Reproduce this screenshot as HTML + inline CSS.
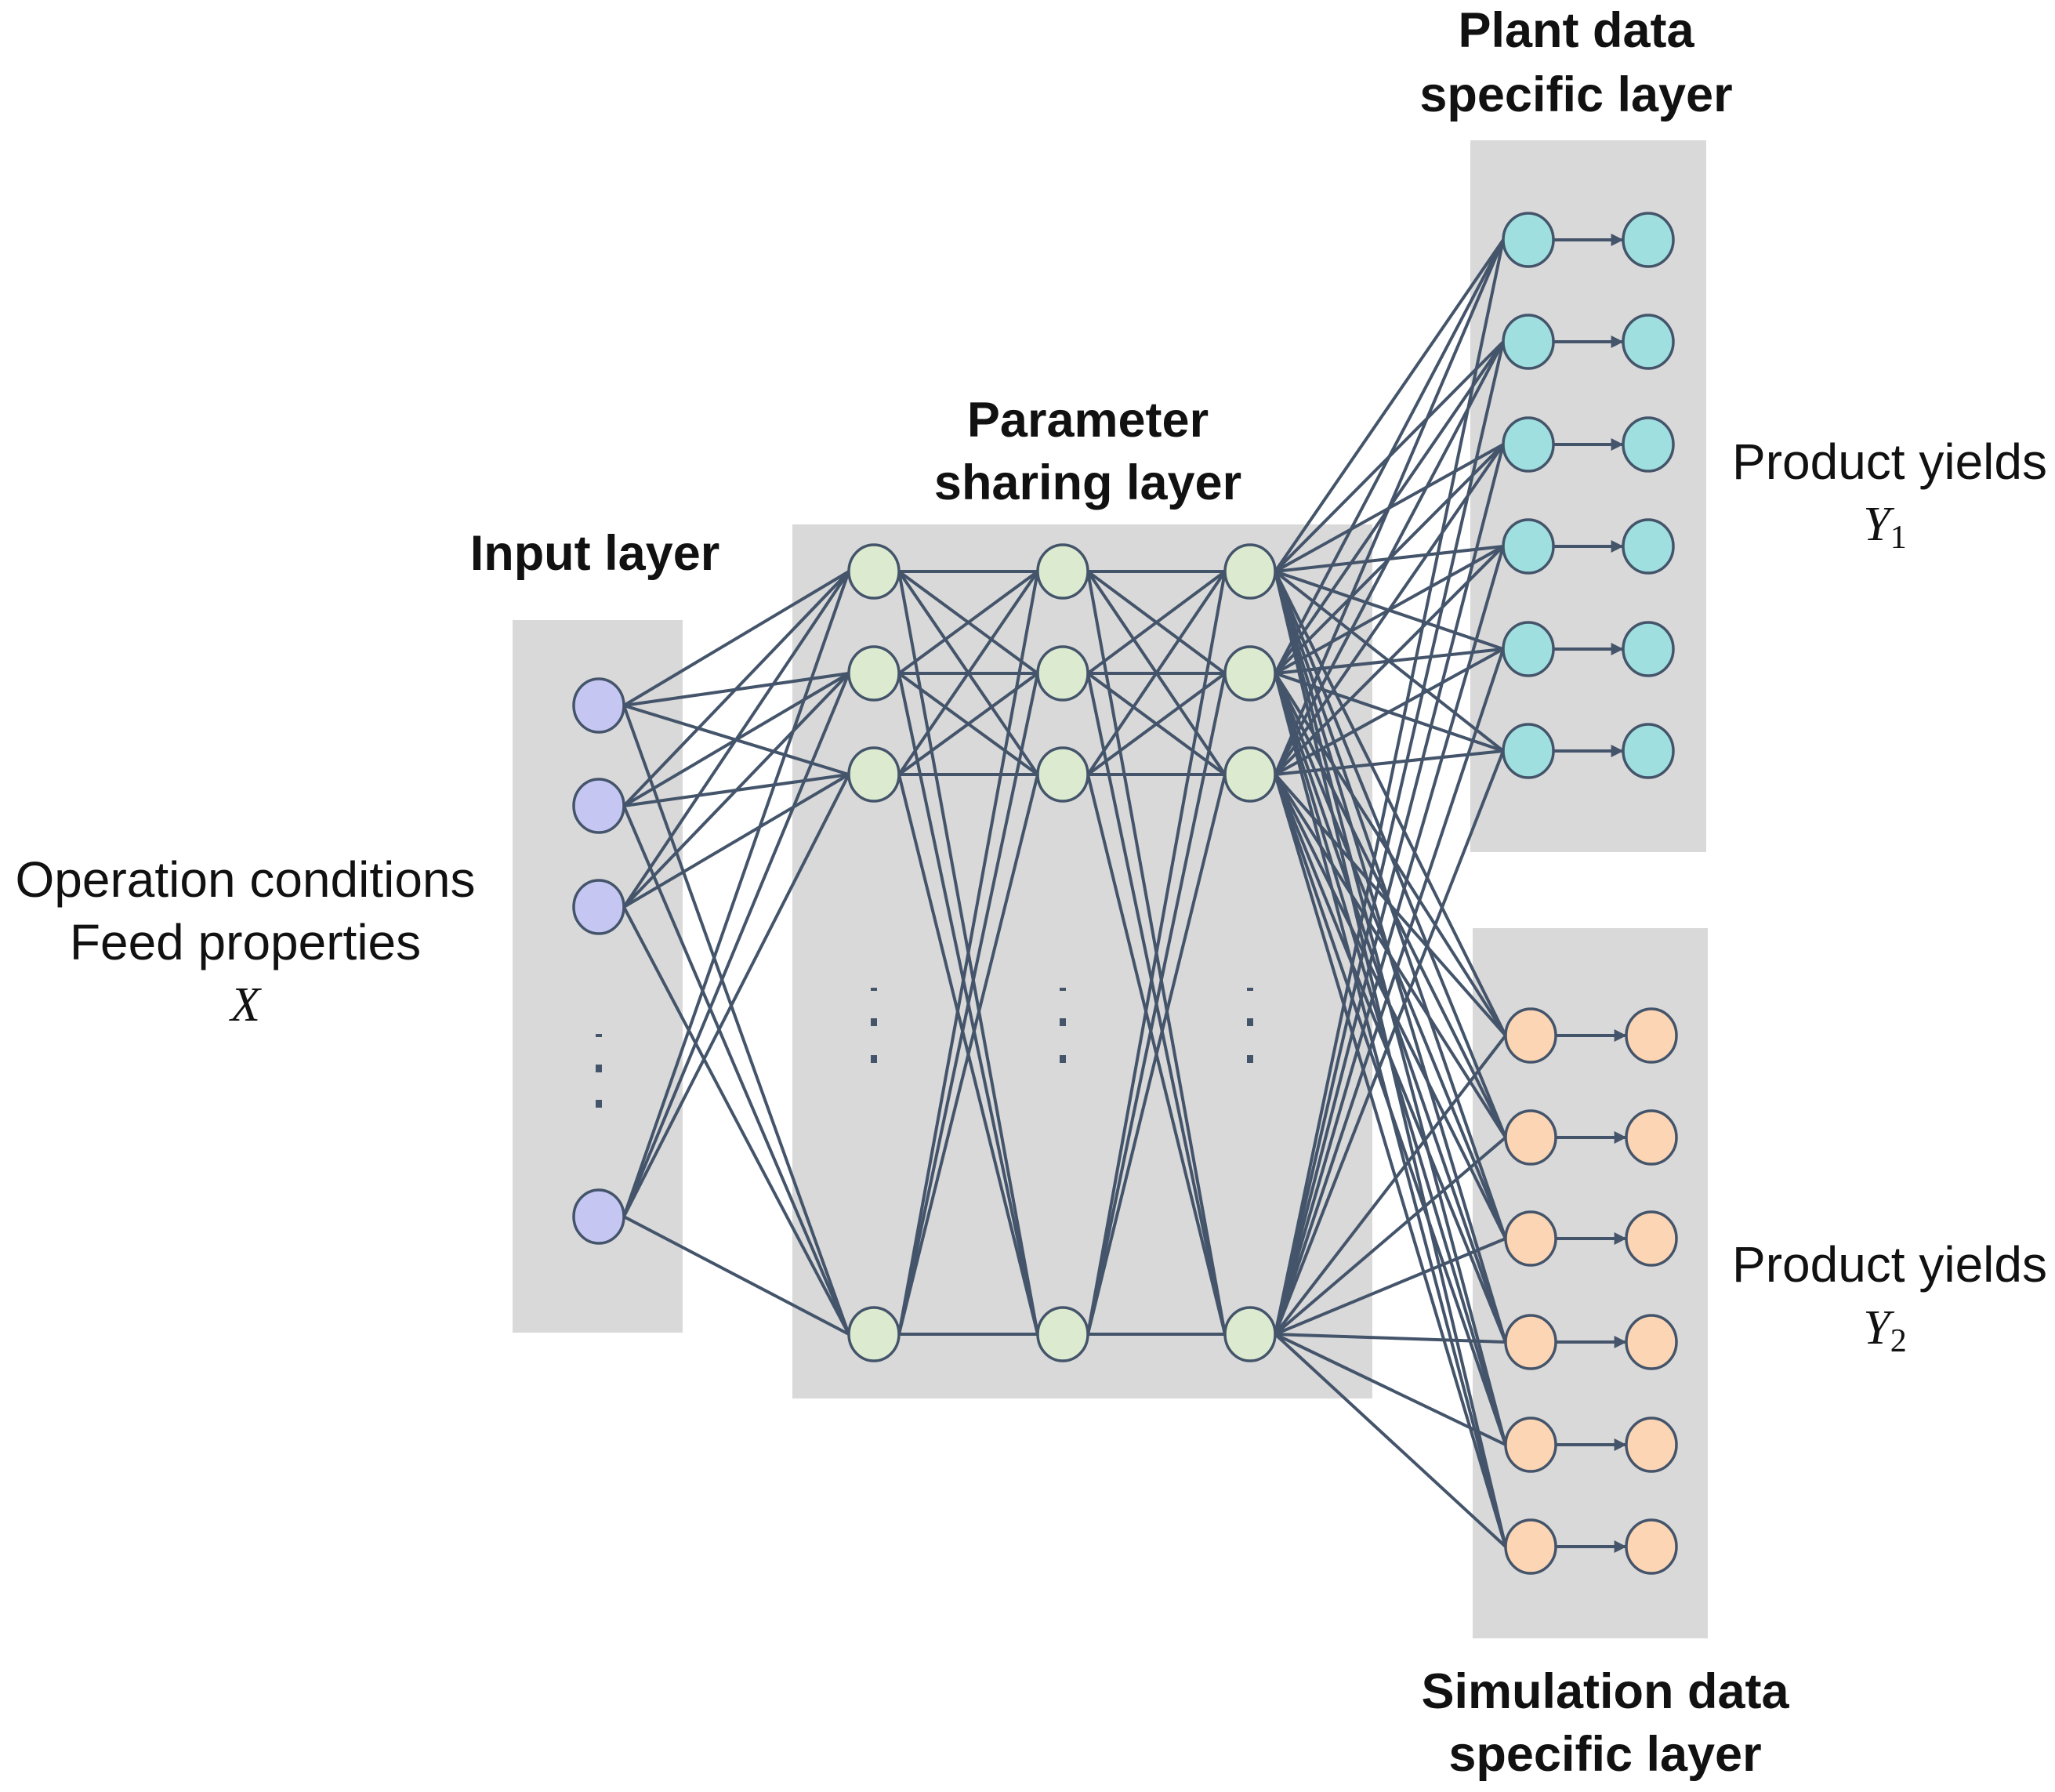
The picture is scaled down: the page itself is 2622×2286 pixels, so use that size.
<!DOCTYPE html>
<html><head><meta charset="utf-8">
<style>
html,body{margin:0;padding:0;background:#fff;}
body{width:2622px;height:2281px;overflow:hidden;}
svg text{font-family:"Liberation Sans",sans-serif;fill:#111;}
.b{font-weight:bold;font-size:63px;}
.n{font-size:64px;}
.i{font-family:"Liberation Serif",serif;font-style:italic;font-size:62px;}
</style></head><body>
<svg id="s" width="2622" height="2281" viewBox="0 0 2622 2281" xmlns="http://www.w3.org/2000/svg">
<defs><marker id="ar" viewBox="0 0 10 10" refX="9" refY="5" markerWidth="4" markerHeight="4" orient="auto"><path d="M0,0L10,5L0,10z" fill="#44546a"/></marker></defs>
<rect x="654" y="791" width="217" height="909" fill="#d9d9d9"/>
<rect x="1011" y="669" width="740" height="1115" fill="#d9d9d9"/>
<rect x="1876" y="179" width="301" height="908" fill="#d9d9d9"/>
<rect x="1879" y="1184" width="300" height="906" fill="#d9d9d9"/>
<g id="lines" stroke="#44546a" stroke-width="4" fill="none"></g>
<g id="nodes" stroke="#44546a" stroke-width="3.5"></g>
<g fill="#44546a">
<rect x="760" y="1319" width="8" height="4"/><rect x="760" y="1358" width="8" height="10"/><rect x="760" y="1403" width="8" height="10"/>
<rect x="1111" y="1260" width="8" height="4"/><rect x="1111" y="1299" width="8" height="10"/><rect x="1111" y="1346" width="8" height="10"/>
<rect x="1352" y="1260" width="8" height="4"/><rect x="1352" y="1299" width="8" height="10"/><rect x="1352" y="1346" width="8" height="10"/>
<rect x="1591" y="1260" width="8" height="4"/><rect x="1591" y="1299" width="8" height="10"/><rect x="1591" y="1346" width="8" height="10"/>
</g>
<text class="b" x="759" y="727" text-anchor="middle">Input layer</text>
<text class="b" x="1388" y="557" text-anchor="middle">Parameter</text>
<text class="b" x="1388" y="637" text-anchor="middle">sharing layer</text>
<text class="b" x="2011" y="60" text-anchor="middle">Plant data</text>
<text class="b" x="2011" y="142" text-anchor="middle">specific layer</text>
<text class="b" x="2048" y="2179" text-anchor="middle">Simulation data</text>
<text class="b" x="2048" y="2259" text-anchor="middle">specific layer</text>
<text class="n" x="313" y="1144" text-anchor="middle">Operation conditions</text>
<text class="n" x="313" y="1224" text-anchor="middle">Feed properties</text>
<text class="i" x="313" y="1302" text-anchor="middle">X</text>
<text class="n" x="2411" y="611" text-anchor="middle">Product yields</text>
<text class="i" x="2405" y="689" text-anchor="middle">Y<tspan font-style="normal" font-size="42" dy="10">1</tspan></text>
<text class="n" x="2411" y="1635" text-anchor="middle">Product yields</text>
<text class="i" x="2405" y="1714" text-anchor="middle">Y<tspan font-style="normal" font-size="42" dy="10">2</tspan></text>
</svg>
<script>
var NS="http://www.w3.org/2000/svg",L=document.getElementById('lines'),N=document.getElementById('nodes');
var inp=[900,1028,1157,1552].map(function(y){return[764,y]});
var sh=[1115,1356,1595].map(function(x){return[729,859,988,1702].map(function(y){return[x,y]})});
var p1=[306,436,567,697,828,958].map(function(y){return[1950,y]});
var p2=[306,436,567,697,828,958].map(function(y){return[2103,y]});
var s1=[1321,1451,1580,1712,1843,1973].map(function(y){return[1953,y]});
var s2=[1321,1451,1580,1712,1843,1973].map(function(y){return[2107,y]});
var R=32;
function ln(a,b,m){var l=document.createElementNS(NS,'line');l.setAttribute('x1',a[0]);l.setAttribute('y1',a[1]);l.setAttribute('x2',b[0]);l.setAttribute('y2',b[1]);if(m)l.setAttribute('marker-end','url(#ar)');L.appendChild(l);}
function full(A,B){A.forEach(function(a){B.forEach(function(b){ln([a[0]+R,a[1]],[b[0]-R,b[1]]);});});}
full(inp,sh[0]);full(sh[0],sh[1]);full(sh[1],sh[2]);full(sh[2],p1.concat(s1));
for(var i=0;i<6;i++){ln([p1[i][0]+R,p1[i][1]],[p2[i][0]-R-1,p2[i][1]],1);ln([s1[i][0]+R,s1[i][1]],[s2[i][0]-R-1,s2[i][1]],1);}
function nd(arr,f){arr.forEach(function(c){var e=document.createElementNS(NS,'ellipse');e.setAttribute('cx',c[0]);e.setAttribute('cy',c[1]);e.setAttribute('rx',R);e.setAttribute('ry',R+2);e.setAttribute('fill',f);N.appendChild(e);});}
nd(inp,'#c6c6f2');sh.forEach(function(c){nd(c,'#dcebd0');});
nd(p1,'#9fdfe0');nd(p2,'#9fdfe0');nd(s1,'#fcd5b4');nd(s2,'#fcd5b4');
</script>
</body></html>
